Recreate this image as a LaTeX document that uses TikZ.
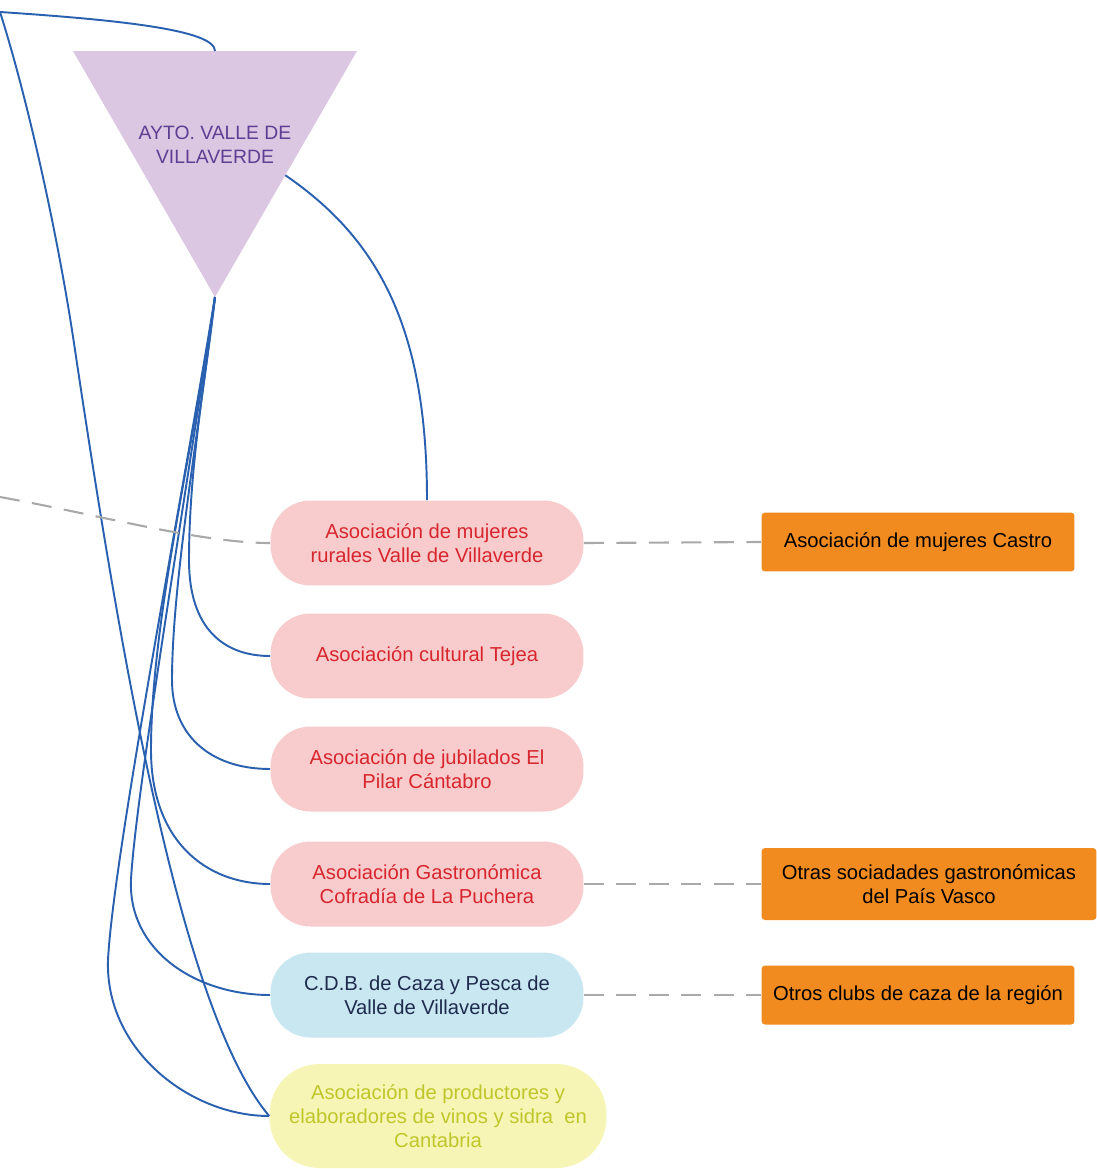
\documentclass[tikz,border=0pt]{standalone}
\usepackage{fontspec}
\setmainfont{Liberation Sans}
\usepackage{tikz}
\usetikzlibrary{shapes.geometric}

\definecolor{lila}{HTML}{DCC7E3}
\definecolor{morado}{HTML}{5E3D92}
\definecolor{rosa}{HTML}{F8CBCD}
\definecolor{rojo}{HTML}{D7262E}
\definecolor{celeste}{HTML}{C9E7F1}
\definecolor{marino}{HTML}{1E2B4D}
\definecolor{crema}{HTML}{F7F5B5}
\definecolor{oliva}{HTML}{BFC62A}
\definecolor{naranja}{HTML}{F28B1F}
\definecolor{linea}{HTML}{2A60B0}
\definecolor{gris}{HTML}{A9A9A9}

\begin{document}
\begin{tikzpicture}[x=0.02cm, y=-0.02cm,
        font=\fontsize{11.5}{13.7}\selectfont,
        ayt/.style = {regular polygon, regular polygon sides=3, shape border rotate=180,
                      fill=lila, minimum size=6.56cm, inner sep=0pt, outer sep=0pt},
        asoc/.style = {rectangle, rounded corners=0.8cm, minimum width=6.26cm,
                       minimum height=1.7cm, align=center, inner sep=0pt},
        ext/.style = {rectangle, rounded corners=2pt, fill=naranja, minimum width=6.26cm,
                      minimum height=1.18cm, align=center, inner sep=0pt},
        link/.style = {draw=linea, line width=1.1pt},
        rel/.style = {draw=gris, line width=1.2pt, dash pattern=on 0.4cm off 0.25cm}]
        \useasboundingbox (0,0) rectangle (1097,1169);

        \node[ayt] (ayto) at (215,133) {};
        \node[text=morado, align=center, font=\fontsize{11}{13.7}\selectfont] (aytotxt) at (215,145) {AYTO. VALLE DE\\VILLAVERDE};

        \node[asoc, fill=rosa, text=rojo] (rur) at (427,543) {Asociación de mujeres\\rurales Valle de Villaverde};
        \node[asoc, fill=rosa, text=rojo] (tej) at (427,656) {Asociación cultural Tejea};
        \node[asoc, fill=rosa, text=rojo] (jub) at (427,769) {Asociación de jubilados El\\Pilar Cántabro};
        \node[asoc, fill=rosa, text=rojo] (gas) at (427,884) {Asociación Gastronómica\\Cofradía de La Puchera};
        \node[asoc, fill=celeste, text=marino] (cdb) at (427,995) {C.D.B. de Caza y Pesca de\\Valle de Villaverde};
        \node[asoc, fill=crema, text=oliva, minimum width=6.74cm, minimum height=2.08cm,
              rounded corners=1cm] (pro) at (438,1116) {Asociación de productores y\\elaboradores de vinos y sidra~ en\\Cantabria};

        \node[ext] (cas) at (918,542) {Asociación de mujeres Castro};
        \node[ext, minimum width=6.7cm, minimum height=1.44cm] (otr) at (929,884) {Otras sociadades gastronómicas\\del País Vasco};
        \node[ext] (clu) at (918,995) {Otros clubs de caza de la región};

        \coordinate (hub) at (0,12);
        \coordinate (oeste) at (0,497);

        % lineas hacia el ayuntamiento
        \draw[link] (hub) .. controls (120,20) and (215,30) .. (ayto.90);
        \draw[link] (ayto.-31) .. controls (380,240) and (427,330) .. (rur.north);
        \draw[link] (hub) .. controls (28,100) and (59,240) .. (75,350)
                          .. controls (120,650) and (180,1010) .. (pro.west);
        \draw[link] (ayto.-90) .. controls (205,380) and (189,470) .. (189,560)
                               .. controls (189,630) and (225,656) .. (tej.west);
        \draw[link] (ayto.-90) .. controls (202,410) and (172,580) .. (172,680)
                               .. controls (172,735) and (210,769) .. (jub.west);
        \draw[link] (ayto.-90) .. controls (195,440) and (151,620) .. (151,750)
                               .. controls (151,840) and (205,884) .. (gas.west);
        \draw[link] (ayto.-90) .. controls (185,500) and (135,800) .. (131,880)
                               .. controls (128,950) and (195,995) .. (cdb.west);
        \draw[link] (ayto.-90) .. controls (180,510) and (113,860) .. (108,960)
                               .. controls (105,1050) and (190,1116) .. (pro.west);

        % relaciones externas
        \draw[rel] (oeste) .. controls (100,515) and (200,543) .. (rur.west);
        \draw[rel] (rur.east) -- (cas.west);
        \draw[rel] (gas.east) -- (otr.west);
        \draw[rel] (cdb.east) -- (clu.west);
    \end{tikzpicture}
\end{document}
